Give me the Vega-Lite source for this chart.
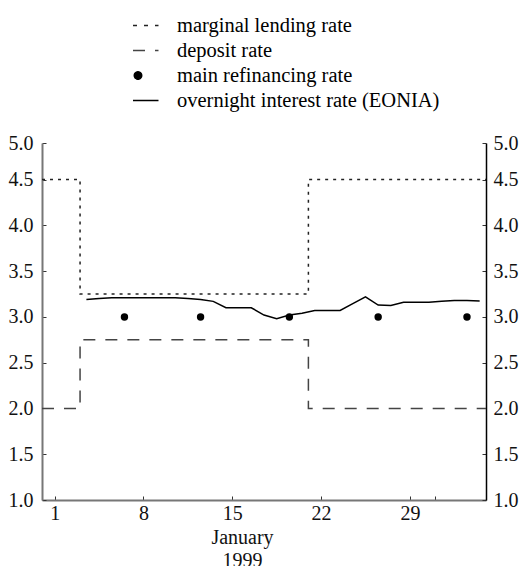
{
  "$schema": "https://vega.github.io/schema/vega-lite/v6.json",
  "width": 444,
  "height": 357,
  "autosize": "none",
  "padding": {"left": 42, "top": 143, "right": 37, "bottom": 66},
  "background": "white",
  "config": {
    "font": "Liberation Serif",
    "view": {"stroke": null},
    "axis": {
      "labelFont": "Liberation Serif",
      "labelFontSize": 20,
      "labelColor": "#111",
      "titleFont": "Liberation Serif",
      "titleFontSize": 20,
      "titleFontWeight": "normal",
      "titleColor": "#111",
      "grid": false,
      "tickColor": "#333",
      "tickWidth": 1,
      "domainWidth": 2
    }
  },
  "datasets": {
    "corridor": [
      {"series": "marginal lending rate", "day": 0, "rate": 4.5},
      {"series": "marginal lending rate", "day": 3, "rate": 3.25},
      {"series": "marginal lending rate", "day": 21, "rate": 4.5},
      {"series": "marginal lending rate", "day": 35, "rate": 4.5},
      {"series": "deposit rate", "day": 0, "rate": 2.0},
      {"series": "deposit rate", "day": 3, "rate": 2.75},
      {"series": "deposit rate", "day": 21, "rate": 2.0},
      {"series": "deposit rate", "day": 35, "rate": 2.0}
    ],
    "mro": [
      {"series": "main refinancing rate", "day": 6.5, "rate": 3.0},
      {"series": "main refinancing rate", "day": 12.5, "rate": 3.0},
      {"series": "main refinancing rate", "day": 19.5, "rate": 3.0},
      {"series": "main refinancing rate", "day": 26.5, "rate": 3.0},
      {"series": "main refinancing rate", "day": 33.5, "rate": 3.0}
    ],
    "eonia": [
      {"series": "overnight interest rate (EONIA)", "day": 3.5, "rate": 3.19},
      {"series": "overnight interest rate (EONIA)", "day": 4.5, "rate": 3.2},
      {"series": "overnight interest rate (EONIA)", "day": 5.5, "rate": 3.21},
      {"series": "overnight interest rate (EONIA)", "day": 6.5, "rate": 3.21},
      {"series": "overnight interest rate (EONIA)", "day": 7.5, "rate": 3.21},
      {"series": "overnight interest rate (EONIA)", "day": 8.5, "rate": 3.21},
      {"series": "overnight interest rate (EONIA)", "day": 9.5, "rate": 3.21},
      {"series": "overnight interest rate (EONIA)", "day": 10.5, "rate": 3.21},
      {"series": "overnight interest rate (EONIA)", "day": 11.5, "rate": 3.2},
      {"series": "overnight interest rate (EONIA)", "day": 12.5, "rate": 3.19},
      {"series": "overnight interest rate (EONIA)", "day": 13.5, "rate": 3.17},
      {"series": "overnight interest rate (EONIA)", "day": 14.5, "rate": 3.1},
      {"series": "overnight interest rate (EONIA)", "day": 15.5, "rate": 3.1},
      {"series": "overnight interest rate (EONIA)", "day": 16.5, "rate": 3.1},
      {"series": "overnight interest rate (EONIA)", "day": 17.5, "rate": 3.02},
      {"series": "overnight interest rate (EONIA)", "day": 18.5, "rate": 2.98},
      {"series": "overnight interest rate (EONIA)", "day": 19.5, "rate": 3.02},
      {"series": "overnight interest rate (EONIA)", "day": 20.5, "rate": 3.04},
      {"series": "overnight interest rate (EONIA)", "day": 21.5, "rate": 3.07},
      {"series": "overnight interest rate (EONIA)", "day": 22.5, "rate": 3.07},
      {"series": "overnight interest rate (EONIA)", "day": 23.5, "rate": 3.07},
      {"series": "overnight interest rate (EONIA)", "day": 24.5, "rate": 3.145},
      {"series": "overnight interest rate (EONIA)", "day": 25.5, "rate": 3.22},
      {"series": "overnight interest rate (EONIA)", "day": 26.5, "rate": 3.13},
      {"series": "overnight interest rate (EONIA)", "day": 27.5, "rate": 3.125},
      {"series": "overnight interest rate (EONIA)", "day": 28.5, "rate": 3.16},
      {"series": "overnight interest rate (EONIA)", "day": 29.5, "rate": 3.16},
      {"series": "overnight interest rate (EONIA)", "day": 30.5, "rate": 3.16},
      {"series": "overnight interest rate (EONIA)", "day": 31.5, "rate": 3.17},
      {"series": "overnight interest rate (EONIA)", "day": 32.5, "rate": 3.18},
      {"series": "overnight interest rate (EONIA)", "day": 33.5, "rate": 3.18},
      {"series": "overnight interest rate (EONIA)", "day": 34.5, "rate": 3.175}
    ]
  },
  "layer": [
    {
      "data": {"name": "corridor"},
      "mark": {"type": "line", "interpolate": "step-after", "strokeWidth": 1.5},
      "encoding": {
        "x": {
          "field": "day", "type": "quantitative",
          "scale": {"domain": [0, 35], "nice": false, "zero": false},
          "axis": {
            "orient": "bottom",
            "values": [1, 8, 15, 22, 29, 31],
            "labelExpr": "datum.value == 31 ? '' : datum.label",
            "tickSize": -4,
            "labelPadding": 7,
            "domainColor": "#777",
            "title": ["January", "1999"],
            "titleX": 200,
            "titleY": 27,
            "titleBaseline": "top",
            "titleLineHeight": 23
          }
        },
        "y": {
          "field": "rate", "type": "quantitative",
          "scale": {"domain": [1, 4.9], "nice": false, "zero": false},
          "axis": {
            "orient": "left",
            "values": [1, 1.5, 2, 2.5, 3, 3.5, 4, 4.5, 4.9],
            "labelExpr": "datum.value > 4.85 ? '5.0' : format(datum.value, '.1f')",
            "tickSize": -4,
            "labelPadding": 13,
            "domainColor": "#777",
            "title": null
          }
        },
        "color": {
          "field": "series", "type": "nominal",
          "scale": {
            "domain": ["marginal lending rate", "deposit rate", "main refinancing rate", "overnight interest rate (EONIA)"],
            "range": ["#222", "#444", "#000", "#000"]
          },
          "legend": {
            "orient": "none",
            "legendX": 91,
            "legendY": -131,
            "title": null,
            "padding": 0,
            "symbolType": "stroke",
            "symbolSize": 650,
            "symbolStrokeWidth": 1.5,
            "labelFont": "Liberation Serif",
            "labelFontSize": 20.5,
            "labelColor": "#000",
            "labelOffset": 17,
            "rowPadding": 1,
            "labelLimit": 400,
            "encode": {
              "symbols": {
                "update": {
                  "shape": {"signal": "datum.value === 'main refinancing rate' ? 'circle' : 'stroke'"},
                  "size": {"signal": "datum.value === 'main refinancing rate' ? 55 : 650"},
                  "x": {"signal": "datum.value === 'main refinancing rate' ? 5 : 12.75"},
                  "strokeDash": {"signal": "datum.value === 'marginal lending rate' ? [4, 7] : (datum.value === 'deposit rate' ? [12, 10] : [1, 0])"},
                  "fill": {"signal": "datum.value === 'main refinancing rate' ? '#000' : 'transparent'"},
                  "stroke": {"value": "#000"},
                  "strokeWidth": {"value": 1.5},
                  "opacity": {"value": 1}
                }
              }
            }
          }
        },
        "strokeDash": {
          "field": "series", "type": "nominal",
          "scale": {"domain": ["marginal lending rate", "deposit rate"], "range": [[3, 5], [12, 10]]},
          "legend": null
        }
      }
    },
    {
      "data": {"name": "eonia"},
      "mark": {"type": "line", "strokeWidth": 1.5},
      "encoding": {
        "x": {"field": "day", "type": "quantitative"},
        "y": {
          "field": "rate", "type": "quantitative",
          "axis": {
            "orient": "right",
            "values": [1, 1.5, 2, 2.5, 3, 3.5, 4, 4.5, 4.9],
            "labelExpr": "datum.value > 4.85 ? '5.0' : format(datum.value, '.1f')",
            "tickSize": -4,
            "labelPadding": 11,
            "domainColor": "#000",
            "domainWidth": 1.5,
            "title": null
          }
        },
        "color": {"field": "series", "type": "nominal"}
      }
    },
    {
      "data": {"name": "mro"},
      "mark": {"type": "point", "filled": true, "size": 55, "opacity": 1},
      "encoding": {
        "x": {"field": "day", "type": "quantitative"},
        "y": {"field": "rate", "type": "quantitative", "axis": null},
        "color": {"field": "series", "type": "nominal"}
      }
    },
    {
      "mark": {"type": "rule", "color": "#000", "strokeWidth": 2.5},
      "encoding": {
        "x": {"datum": 0, "type": "quantitative"},
        "y": {"datum": 1.0, "type": "quantitative", "axis": null},
        "y2": {"datum": 1.2}
      }
    }
  ],
  "resolve": {"axis": {"y": "independent"}}
}
